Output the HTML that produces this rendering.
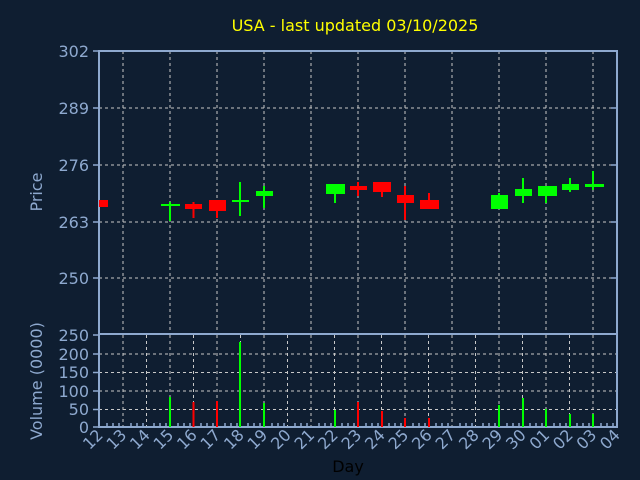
<!DOCTYPE html>
<html><head><style>body{margin:0;background:#0f1e31}svg{display:block}</style></head><body>
<svg width="640" height="480" xmlns="http://www.w3.org/2000/svg" font-family="'DejaVu Sans','Liberation Sans',sans-serif">
<rect width="640" height="480" fill="#0f1e31"/>
<text x="355" y="31" fill="#ffff00" font-size="16" text-anchor="middle">USA - last updated 03/10/2025</text>
<g stroke="#c8c8c8" stroke-dasharray="3,3" stroke-width="1">
<path d="M99 108H617M99 165H617M99 222H617M99 278H617"/>
<path d="M123 51V334M170 51V334M217 51V334M264 51V334M311 51V334M358 51V334M405 51V334M452 51V334M499 51V334M546 51V334M593 51V334"/>
<path d="M99 409.5H617M99 391H617M99 372.5H617M99 354H617"/>
<path d="M123 335V427M146.5 335V427M170 335V427M193.5 335V427M217 335V427M240.5 335V427M264 335V427M287.5 335V427M311 335V427M334.5 335V427M358 335V427M381.5 335V427M405 335V427M428.5 335V427M452 335V427M475.5 335V427M499 335V427M522.5 335V427M546 335V427M569.5 335V427M593 335V427"/>
</g>
<g stroke="#8ea9cf" stroke-width="2" fill="none">
<rect x="99" y="51" width="518" height="283"/>
<path d="M99 334V427H617V334"/>
</g>
<g stroke="#8ea9cf" stroke-width="1.5">
<path d="M93 51H99M93 108H99M93 165H99M93 222H99M93 278H99M93 335H99M93 354H99M93 372.5H99M93 391H99M93 409.5H99M93 427H99"/>
<path d="M611 108H617M611 165H617M611 222H617M611 278H617"/>
<path d="M107 427V423M113 427V423M119 427V423M131 427V423M137 427V423M143 427V423M154 427V423M160 427V423M166 427V423M178 427V423M184 427V423M190 427V423M201 427V423M207 427V423M213 427V423M225 427V423M231 427V423M237 427V423M248 427V423M254 427V423M260 427V423M272 427V423M278 427V423M284 427V423M295 427V423M301 427V423M307 427V423M319 427V423M325 427V423M331 427V423M342 427V423M348 427V423M354 427V423M366 427V423M372 427V423M378 427V423M389 427V423M395 427V423M401 427V423M413 427V423M419 427V423M425 427V423M436 427V423M442 427V423M448 427V423M460 427V423M466 427V423M472 427V423M483 427V423M489 427V423M495 427V423M507 427V423M513 427V423M519 427V423M530 427V423M536 427V423M542 427V423M554 427V423M560 427V423M566 427V423M577 427V423M583 427V423M589 427V423M601 427V423M607 427V423M613 427V423"/>
</g>
<g fill="#8ea9cf" font-size="16" text-anchor="end">
<text x="89" y="57">302</text><text x="89" y="114">289</text><text x="89" y="171">276</text><text x="89" y="228">263</text><text x="89" y="284">250</text>
<text x="89" y="341">250</text><text x="89" y="360">200</text><text x="89" y="378">150</text><text x="89" y="397">100</text><text x="89" y="415">50</text><text x="89" y="433">0</text>
</g>
<text transform="translate(42,192) rotate(-90)" fill="#8ea9cf" font-size="16" text-anchor="middle">Price</text>
<text transform="translate(42,381) rotate(-90)" fill="#8ea9cf" font-size="16" text-anchor="middle">Volume (0000)</text>
<text x="348" y="472" fill="#000" font-size="16" text-anchor="middle">Day</text>
<g fill="#8ea9cf" font-size="16" text-anchor="end">
<text transform="translate(104,436) rotate(-45)">12</text><text transform="translate(127.5,436) rotate(-45)">13</text><text transform="translate(151,436) rotate(-45)">14</text><text transform="translate(174.5,436) rotate(-45)">15</text><text transform="translate(198,436) rotate(-45)">16</text><text transform="translate(221.5,436) rotate(-45)">17</text><text transform="translate(245,436) rotate(-45)">18</text><text transform="translate(268.5,436) rotate(-45)">19</text><text transform="translate(292,436) rotate(-45)">20</text><text transform="translate(315.5,436) rotate(-45)">21</text><text transform="translate(339,436) rotate(-45)">22</text><text transform="translate(362.5,436) rotate(-45)">23</text><text transform="translate(386,436) rotate(-45)">24</text><text transform="translate(409.5,436) rotate(-45)">25</text><text transform="translate(433,436) rotate(-45)">26</text><text transform="translate(456.5,436) rotate(-45)">27</text><text transform="translate(480,436) rotate(-45)">28</text><text transform="translate(503.5,436) rotate(-45)">29</text><text transform="translate(527,436) rotate(-45)">30</text><text transform="translate(550.5,436) rotate(-45)">01</text><text transform="translate(574,436) rotate(-45)">02</text><text transform="translate(597.5,436) rotate(-45)">03</text><text transform="translate(621,436) rotate(-45)">04</text>
</g>
<g stroke-width="2">
<g stroke="#00ff00"><path d="M170 202V221M240 182V216M264 186V208M335 184V203M499 193V209M523 178V203M546 186V203M570 178V192M593 171V190"/></g>
<g stroke="#ff0000"><path d="M193.5 202V218M217 200V218M358 182V196M382 182V197M405 186V220M429 193V209"/></g>
</g>
<g fill="#ff0000">
<rect x="99" y="200" width="9" height="7"/><rect x="185" y="204" width="17" height="5"/><rect x="209" y="200" width="17" height="11"/><rect x="350" y="186" width="17" height="4"/><rect x="373" y="182" width="18" height="10"/><rect x="397" y="195" width="17" height="8"/><rect x="420" y="200" width="19" height="9"/>
</g>
<g fill="#00ff00">
<rect x="161" y="204" width="19" height="2"/><rect x="232" y="200" width="17" height="2"/><rect x="256" y="191" width="17" height="5"/><rect x="326" y="184" width="19" height="10"/><rect x="491" y="195" width="17" height="14"/><rect x="515" y="189" width="17" height="7"/><rect x="538" y="186" width="19" height="10"/><rect x="562" y="184" width="17" height="6"/><rect x="585" y="184" width="19" height="3"/>
</g>
<g stroke-width="2">
<g stroke="#00ff00"><path d="M170 397V427M240 342V427M264 403V427M335 410V427M499 405V427M523 398V427M546 409V427M570 414V427M593 414V427"/></g>
<g stroke="#ff0000"><path d="M193.5 402V427M217 401V427M358 402V427M382 411V427M405 418V427M429 418V427"/></g>
</g>
</svg>
</body></html>
